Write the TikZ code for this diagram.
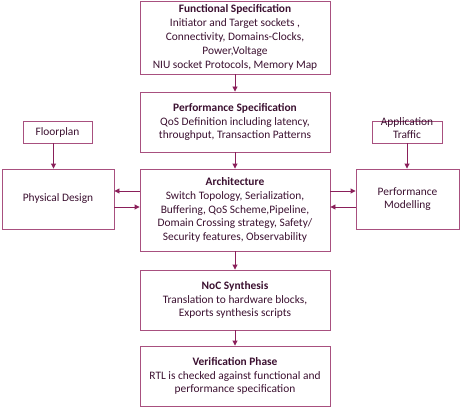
\documentclass[tikz,border=0pt]{standalone}
\usepackage{fontspec}
\setmainfont{Carlito}
\usetikzlibrary{arrows.meta}

\definecolor{boxline}{HTML}{A8507F}
\definecolor{arrline}{HTML}{8A1F5A}
\definecolor{ink}{HTML}{3B1030}

\begin{document}
\begin{tikzpicture}[x=1pt, y=-1pt,
    stage/.style = {draw=boxline, line width=0.9pt, text=ink, align=center,
                    inner sep=0pt, minimum width=190pt,
                    font=\fontsize{11.4}{13.8}\selectfont},
    side/.style  = {stage, minimum width=0pt},
    arr/.style   = {draw=arrline, line width=0.9pt,
                    -{Triangle[length=5pt, width=5pt]}}]
  \useasboundingbox (0,0) rectangle (462,409);

  % main flow
  \node[stage, minimum height=73pt] (func) at (235,37.5)
    {\textbf{Functional Specification}\\ Initiator and Target sockets ,\\
     Connectivity, Domains-Clocks,\\ Power,Voltage\\
     NIU socket Protocols, Memory Map};
  \node[stage, minimum height=60pt] (perf) at (235,122)
    {\textbf{Performance Specification}\\ QoS Definition including latency,\\
     throughput, Transaction Patterns};
  \node[stage, minimum height=82pt] (arch) at (235,210)
    {\textbf{Architecture}\\ Switch Topology, Serialization,\\
     Buffering, QoS Scheme,Pipeline,\\ Domain Crossing strategy, Safety/\\
     Security features, Observability};
  \node[stage, minimum height=60pt] (noc) at (235,300)
    {\textbf{NoC Synthesis}\\ Translation to hardware blocks,\\
     Exports synthesis scripts};
  \node[stage, minimum height=60pt] (verif) at (235,376)
    {\textbf{Verification Phase}\\ RTL is checked against functional and\\
     performance specification};

  % side boxes
  \node[side, minimum width=69pt, minimum height=22pt] (floor) at (57.5,132) {Floorplan};
  \node[side, minimum width=70pt, minimum height=22pt] (traffic) at (407,132)
    {\raisebox{0pt}[0pt][0pt]{\renewcommand{\arraystretch}{0.95}%
     \begin{tabular}{@{}c@{}}Application\\ Traffic\end{tabular}}};
  \node[side, minimum width=112pt, minimum height=60pt] (phys) at (58,199) {Physical Design};
  \node[side, minimum width=103pt, minimum height=60pt] (model) at (407.5,199)
    {Performance\\ Modelling};

  % connectors
  \draw[arr] (func) -- (perf);
  \draw[arr] (perf) -- (arch);
  \draw[arr] (arch) -- (noc);
  \draw[arr] (noc) -- (verif);
  \draw[arr] ([xshift=-4pt]floor.south) -- ([xshift=-4pt]floor.south |- phys.north);
  \draw[arr] (traffic.south) -- (traffic.south |- model.north);
  \draw[arr] ([yshift=8pt]phys.east -| arch.west) -- ([yshift=8pt]phys.east);
  \draw[arr] ([yshift=-8pt]phys.east) -- ([yshift=-8pt]phys.east -| arch.west);
  \draw[arr] ([yshift=8pt]model.west -| arch.east) -- ([yshift=8pt]model.west);
  \draw[arr] ([yshift=-8pt]model.west) -- ([yshift=-8pt]model.west -| arch.east);
\end{tikzpicture}
\end{document}
